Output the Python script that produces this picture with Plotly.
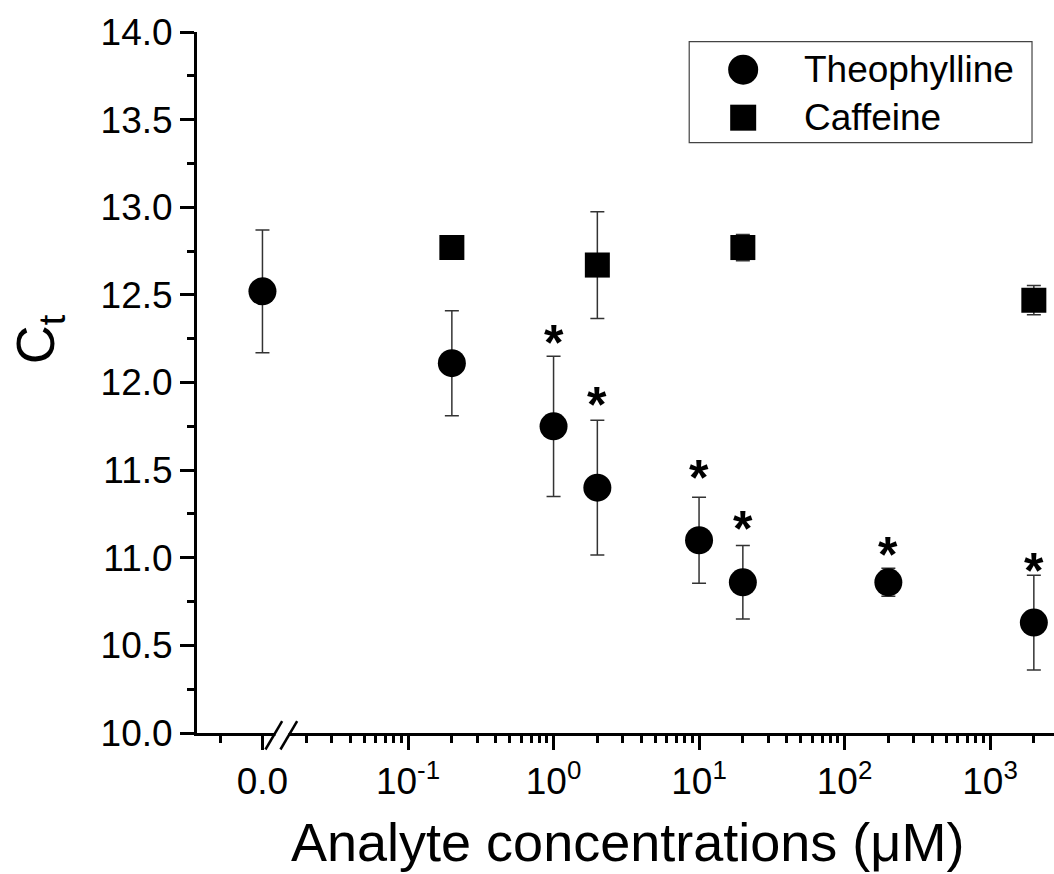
import math
import plotly.graph_objects as go

# ---------------- data ----------------
theo_zero_x = [0.0]
theo_zero_y = [12.52]
theo_zero_err = [0.35]

theo_x = [0.2, 1, 2, 10, 20, 200, 2000]
theo_y = [12.11, 11.75, 11.40, 11.10, 10.86, 10.86, 10.63]
theo_err = [0.30, 0.40, 0.385, 0.245, 0.21, 0.08, 0.27]

caf_x = [0.2, 2, 20, 2000]
caf_y = [12.77, 12.67, 12.77, 12.47]
caf_err = [0.02, 0.305, 0.075, 0.083]

star_x = [1, 2, 10, 20, 200, 2000]
star_y = [12.27, 11.92, 11.50, 11.21, 11.06, 10.97]

major_log_ticks = [0.1, 1, 10, 100, 1000]
major_log_text = ["10<sup>-1</sup>", "10<sup>0</sup>", "10<sup>1</sup>", "10<sup>2</sup>", "10<sup>3</sup>"]
minor_log_ticks = [m * d for d in [0.01, 0.1, 1, 10, 100] for m in range(2, 10)] + [2000]

y_ticks = [10.0, 10.5, 11.0, 11.5, 12.0, 12.5, 13.0, 13.5, 14.0]

FONT = "Liberation Sans, Arial, sans-serif"
TICKFONT = dict(family=FONT, size=37, color="black")

# geometry (pixels)
W, H = 1054, 874
L, R, T, B = 196.5, 1054, 32.3, 733.5
BRK = 281
def px(x):
    return (x - L) / (R - L)
def py(y):
    return (B - y) / (B - T)

err_style = dict(type="data", symmetric=True, color="#333333", thickness=1.5, width=7)

fig = go.Figure()

fig.add_trace(go.Scatter(
    x=theo_zero_x, y=theo_zero_y, xaxis="x", yaxis="y", mode="markers",
    marker=dict(symbol="circle", size=28, color="black"),
    error_y=dict(array=theo_zero_err, **err_style), showlegend=False, name="Theophylline"))

fig.add_trace(go.Scatter(
    x=theo_x, y=theo_y, xaxis="x2", yaxis="y", mode="markers",
    marker=dict(symbol="circle", size=28, color="black"),
    error_y=dict(array=theo_err, **err_style), showlegend=False, name="Theophylline"))

fig.add_trace(go.Scatter(
    x=caf_x, y=caf_y, xaxis="x2", yaxis="y", mode="markers",
    marker=dict(symbol="square", size=25, color="black"),
    error_y=dict(array=caf_err, **err_style), showlegend=False, name="Caffeine"))

# custom legend markers on a hidden overlay axis
fig.add_trace(go.Scatter(
    x=[px(743)], y=[py(70)], xaxis="x3", yaxis="y3", mode="markers",
    marker=dict(symbol="circle", size=30, color="black"), showlegend=False, hoverinfo="skip"))
fig.add_trace(go.Scatter(
    x=[px(743)], y=[py(118)], xaxis="x3", yaxis="y3", mode="markers",
    marker=dict(symbol="square", size=26, color="black"), showlegend=False, hoverinfo="skip"))

annotations = []
for sx, sy in zip(star_x, star_y):
    annotations.append(dict(x=math.log10(sx), y=sy, xref="x2", yref="y", text="*", showarrow=False,
                            font=dict(family=FONT, size=50, color="black", weight="bold"),
                            xanchor="center", yanchor="middle", yshift=-8))

annotations.append(dict(x=px(802), y=py(70), xref="paper", yref="paper", text="Theophylline",
                        showarrow=False, xanchor="left", yanchor="middle",
                        font=dict(family=FONT, size=37, color="black")))
annotations.append(dict(x=px(802), y=py(118), xref="paper", yref="paper", text="Caffeine",
                        showarrow=False, xanchor="left", yanchor="middle",
                        font=dict(family=FONT, size=37, color="black")))
annotations.append(dict(x=px(627), y=py(843), xref="paper", yref="paper",
                        text="Analyte concentrations (\u03bcM)", showarrow=False,
                        xanchor="center", yanchor="middle",
                        font=dict(family=FONT, size=54, color="black")))
annotations.append(dict(x=px(38), y=py(340), xref="paper", yref="paper",
                        text="C<sub>t</sub>", showarrow=False, textangle=-90,
                        xanchor="center", yanchor="middle",
                        font=dict(family=FONT, size=54, color="black")))

shapes = [
    dict(type="rect", xref="paper", yref="paper", x0=px(275), x1=px(288), y0=py(738), y1=py(731),
         fillcolor="white", line=dict(width=0), layer="above"),
    dict(type="line", xref="paper", yref="paper", x0=px(265), y0=py(750), x1=px(281.7), y1=py(721.7),
         line=dict(color="black", width=2.5), layer="above"),
    dict(type="line", xref="paper", yref="paper", x0=px(280), y0=py(750), x1=px(296.7), y1=py(721.7),
         line=dict(color="black", width=2.5), layer="above"),
    dict(type="rect", xref="paper", yref="paper", x0=px(689), x1=px(1032), y0=py(143), y1=py(42),
         fillcolor="rgba(0,0,0,0)", line=dict(color="#444444", width=1.2), layer="above"),
]

scale = 840.0  # px per unit on the linear part
lin_range = [(L - 262) / scale, (BRK - 262) / scale]
dec = 145.6
log_range = [-1 - (407.7 - BRK) / dec, 3 + (R - 990) / dec]

axis_common = dict(showline=True, linewidth=3, linecolor="black", ticks="outside",
                   ticklen=14, tickwidth=2.5, tickcolor="black", showgrid=False, zeroline=False,
                   tickfont=TICKFONT, automargin=False)

fig.update_layout(
    width=W, height=H, autosize=False,
    margin=dict(l=L, r=W - R, t=T, b=H - B, pad=0, autoexpand=False),
    paper_bgcolor="white", plot_bgcolor="rgba(0,0,0,0)",
    xaxis=dict(domain=[0, px(BRK)], range=lin_range, anchor="y",
               tickmode="array", tickvals=theo_zero_x, ticktext=["0.0"],
               minor=dict(tickmode="array", tickvals=[-0.05], ticks="outside", ticklen=7,
                          tickwidth=2.5, tickcolor="black"),
               **axis_common),
    xaxis2=dict(domain=[px(BRK), 1], type="log", range=log_range, anchor="y",
                tickmode="array", tickvals=major_log_ticks, ticktext=major_log_text,
                minor=dict(tickmode="array", tickvals=minor_log_ticks, ticks="outside", ticklen=7,
                           tickwidth=2.5, tickcolor="black"),
                **axis_common),
    yaxis=dict(domain=[0, 1], range=[10, 14], anchor="x",
               tickmode="array", tickvals=y_ticks, tickformat=".1f",
               minor=dict(dtick=0.25, ticks="outside", ticklen=7, tickwidth=2.5, tickcolor="black"),
               **axis_common),
    xaxis3=dict(domain=[0, 1], range=[0, 1], anchor="y3", visible=False, fixedrange=True),
    yaxis3=dict(domain=[0, 1], range=[0, 1], anchor="x3", visible=False, fixedrange=True),
    annotations=annotations,
    shapes=shapes,
    showlegend=False,
)

post = ("document.body.style.margin='0';document.body.style.overflow='hidden';"
        "var gd=document.getElementById('{plot_id}');gd.style.width='1054px';gd.style.height='874px';"
        "Plotly.relayout(gd,{width:1054,height:874});")

fig.write_html("out.html", config={"displayModeBar": False, "responsive": False},
               post_script=post)
